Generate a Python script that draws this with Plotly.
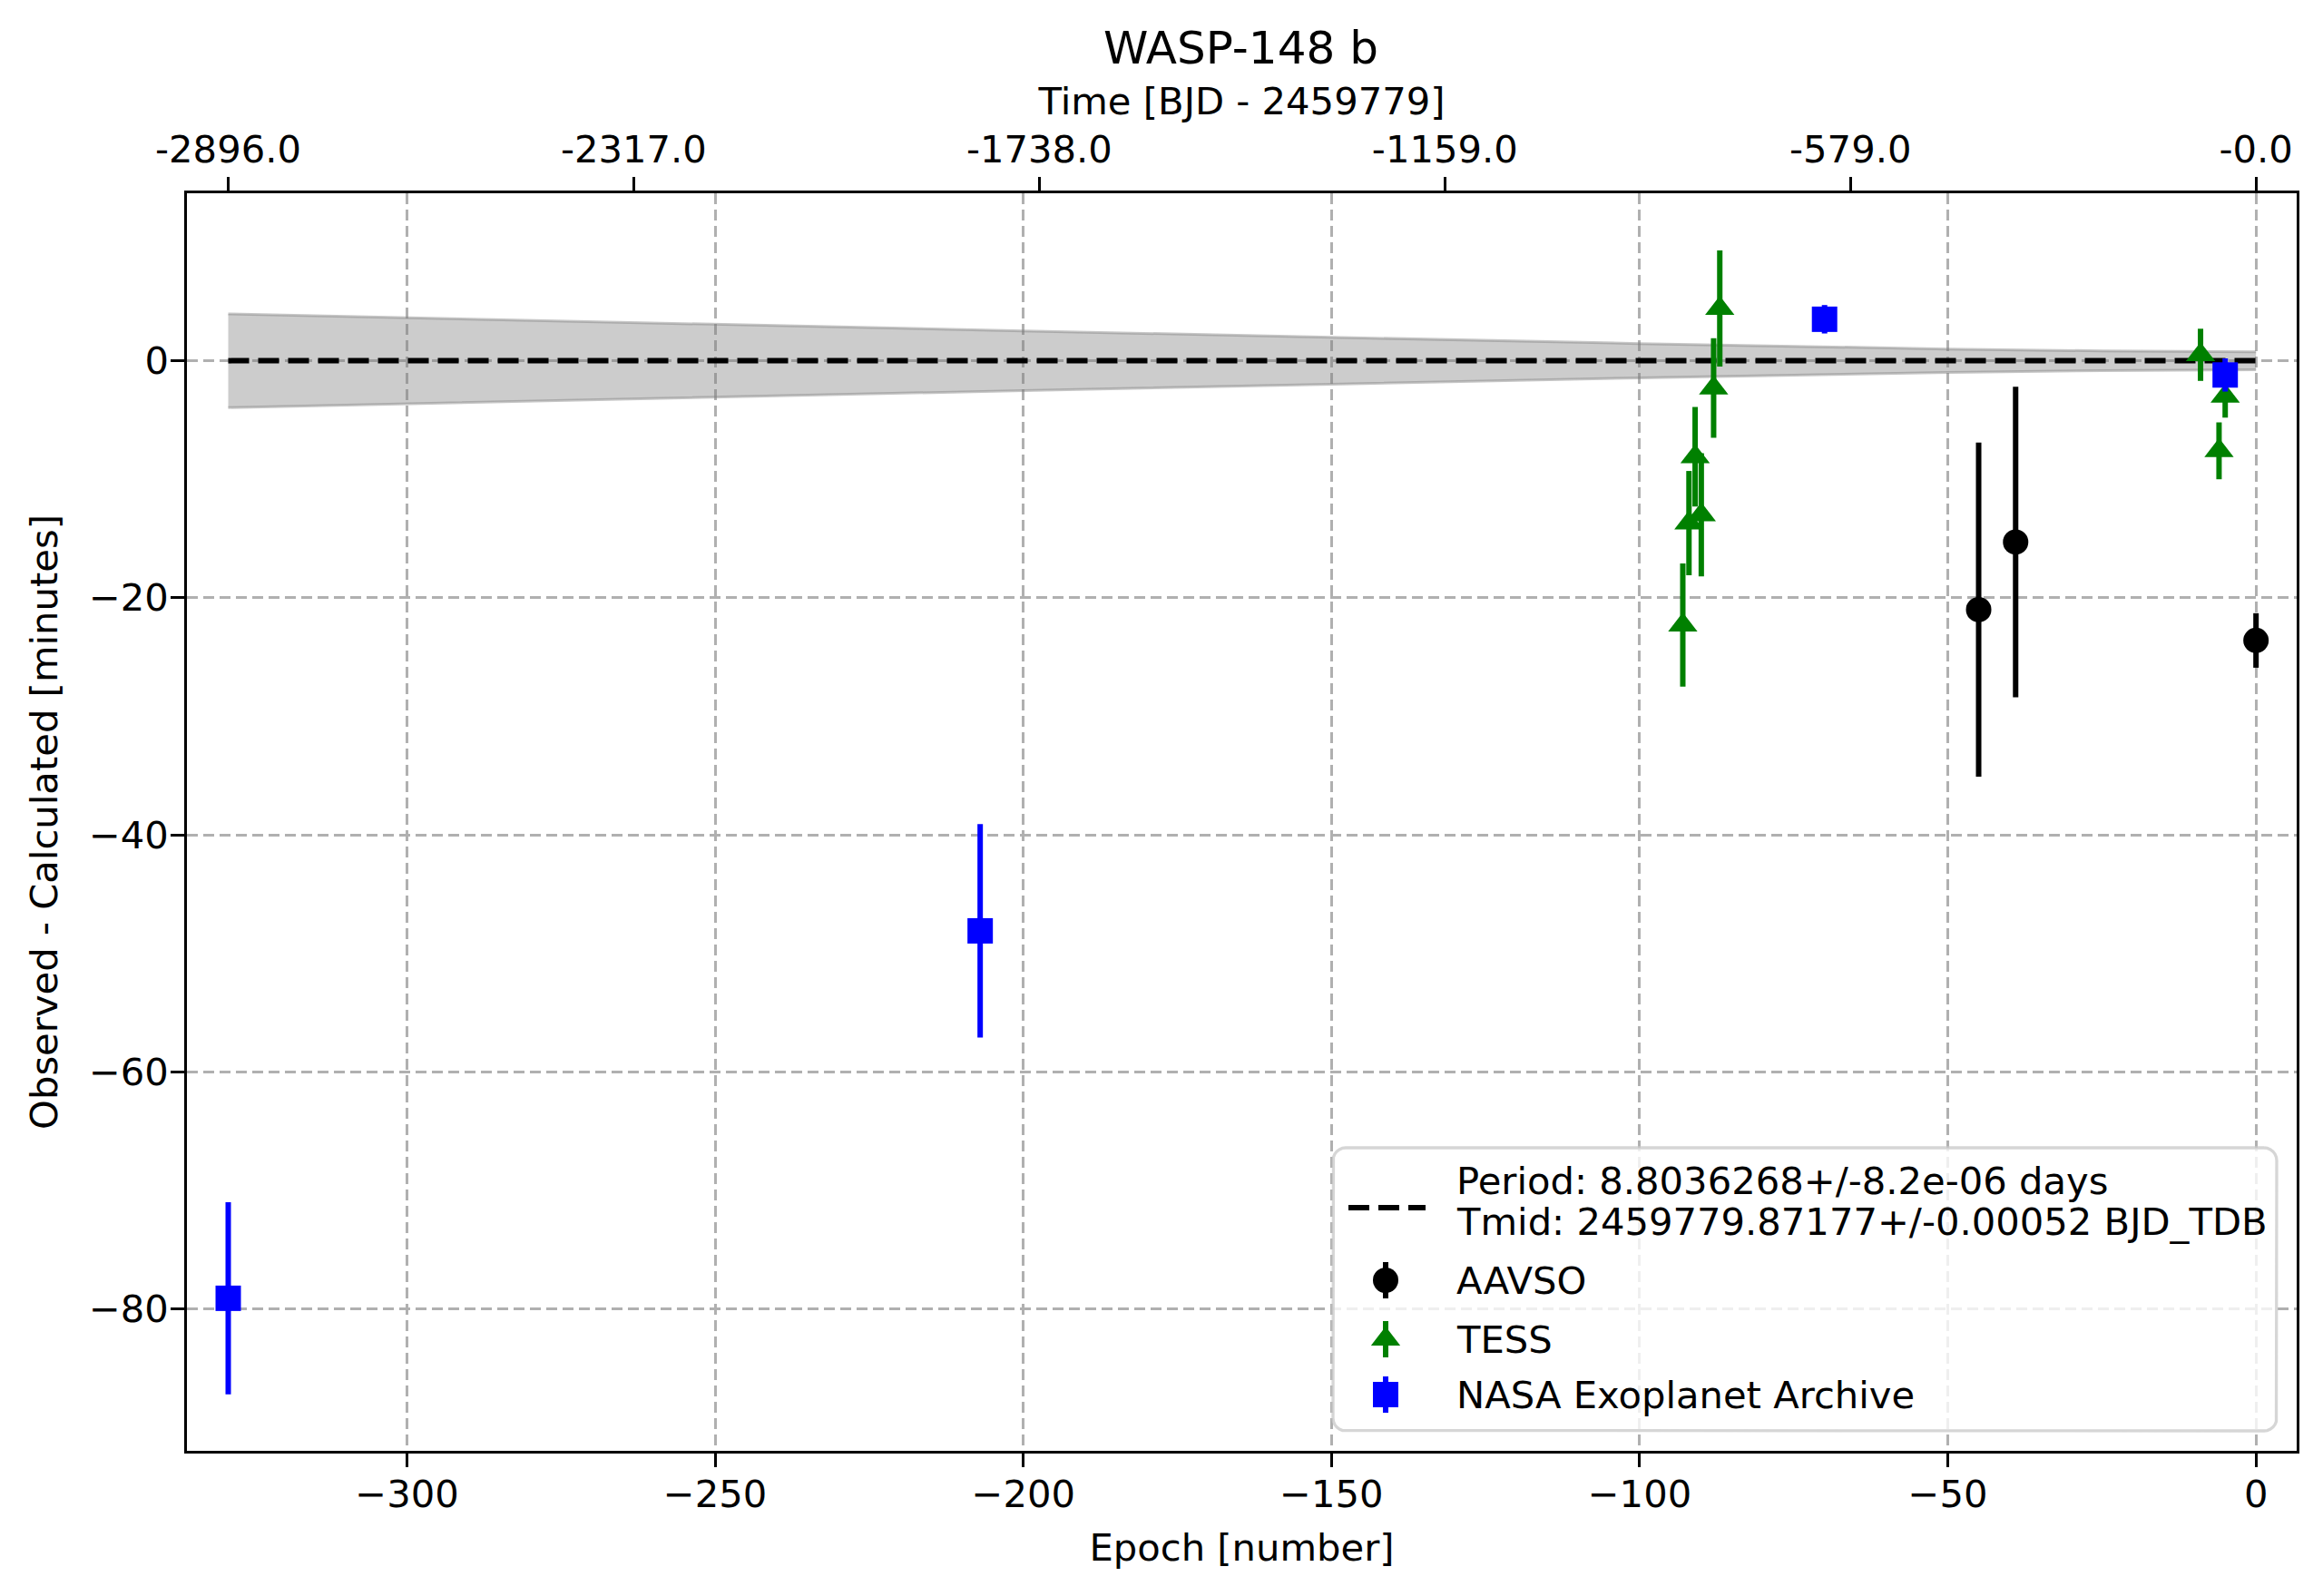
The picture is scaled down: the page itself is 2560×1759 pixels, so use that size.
import math
import plotly.graph_objects as go

# ---------------- data ----------------
# O-C residuals in minutes vs transit epoch
aavso_epoch = [-45, -39, 0]
aavso_oc = [-21.0, -15.3, -23.6]
aavso_err = [14.1, 13.1, 2.3]

tess_epoch = [-93, -92, -91, -90, -88, -87, -9, -6, -5]
tess_oc = [-22.3, -13.7, -8.1, -13.0, -2.3, 4.4, 0.5, -7.6, -3.0]
tess_err = [5.2, 4.4, 4.2, 5.2, 4.2, 4.9, 2.2, 2.4, 1.8]

nasa_epoch = [-329, -207, -70, -5]
nasa_oc = [-79.1, -48.1, 3.5, -1.2]
nasa_err = [8.1, 9.0, 1.2, 1.4]

# ephemeris uncertainty band (half width, minutes)
band_epoch = [-329, -300, -250, -200, -150, -100, -50, -25, 0]
band_half = [3.95, 3.62, 3.07, 2.52, 1.98, 1.45, 0.99, 0.83, 0.75]

# top axis: time since Tmid
top_tick_epoch = [-329, -263.2, -197.4, -131.6, -65.8, 0]
top_tick_text = ["-2896.0", "-2317.0", "-1738.0", "-1159.0", "-579.0", "-0.0"]

fit_lines = ["Period: 8.8036268+/-8.2e-06 days",
             "Tmid: 2459779.87177+/-0.00052 BJD_TDB"]

FONT = "DejaVu Sans"
FS = 41.7
GRID = dict(showgrid=True, gridcolor="#b0b0b0", gridwidth=3, griddash="12px,6px")

# page body has an 8px margin, so the figure is shrunk to keep the plot box in place
OFF = 8
W, H = 2560 - 2 * OFF, 1759 - 2 * OFF
PL, PR, PT, PB = 206, 2531, 213, 1599   # plot box in screenshot pixels

fig = go.Figure()

# uncertainty band
fig.add_trace(go.Scatter(
    x=band_epoch, y=[-h for h in band_half], mode="lines",
    line=dict(color="rgba(128,128,128,0.45)", width=3),
    showlegend=False, hoverinfo="skip"))
fig.add_trace(go.Scatter(
    x=band_epoch, y=band_half, mode="lines", fill="tonexty",
    fillcolor="rgba(128,128,128,0.4)",
    line=dict(color="rgba(128,128,128,0.45)", width=3),
    showlegend=False, hoverinfo="skip"))

# linear ephemeris
fig.add_trace(go.Scatter(
    x=[band_epoch[0], band_epoch[-1]], y=[0, 0], mode="lines",
    line=dict(color="black", width=6, dash="23px,10px"),
    showlegend=False, hoverinfo="skip"))


def err_trace(x, y, e, color, symbol, name, xa="x", ya="y"):
    return go.Scatter(
        x=x, y=y, mode="markers", name=name, xaxis=xa, yaxis=ya,
        showlegend=False,
        marker=dict(color=color, symbol=symbol, size=28, line=dict(width=0)),
        error_y=dict(type="data", array=e, visible=True, color=color,
                     thickness=6, width=0))


series = [
    ("AAVSO", aavso_epoch, aavso_oc, aavso_err, "black", "circle"),
    ("TESS", tess_epoch, tess_oc, tess_err, "green", "triangle-up"),
    ("NASA Exoplanet Archive", nasa_epoch, nasa_oc, nasa_err, "blue", "square"),
]
for name, x, y, e, c, s in series:
    fig.add_trace(err_trace(x, y, e, c, s, name))

# dummy trace to activate the top axis
fig.add_trace(go.Scatter(x=[top_tick_epoch[0]], y=[0], xaxis="x2", mode="markers",
                         marker=dict(opacity=0), showlegend=False, hoverinfo="skip"))

# ---------------- legend drawn in pixel space (x3/y3 overlay) ----------------
LX0, LX1, LY0, LY1, RAD = 1469, 2509, 1265, 1577, 14
bx, by = [], []
for cx, cy, a0 in [(LX1 - RAD, LY0 + RAD, -90), (LX1 - RAD, LY1 - RAD, 0),
                   (LX0 + RAD, LY1 - RAD, 90), (LX0 + RAD, LY0 + RAD, 180)]:
    for k in range(7):
        a = math.radians(a0 + 15 * k)
        bx.append(cx + RAD * math.cos(a))
        by.append(cy + RAD * math.sin(a))
bx.append(bx[0])
by.append(by[0])
fig.add_trace(go.Scatter(x=bx, y=by, xaxis="x3", yaxis="y3", mode="lines",
                         fill="toself", fillcolor="rgba(255,255,255,0.8)",
                         line=dict(color="rgba(204,204,204,0.8)", width=3.3),
                         showlegend=False, hoverinfo="skip"))

HX, TX = 1527, 1603
fig.add_trace(go.Scatter(x=[1486, 1571], y=[1331, 1331], xaxis="x3", yaxis="y3",
                         mode="lines", line=dict(color="black", width=6, dash="23px,10px"),
                         showlegend=False, hoverinfo="skip"))
legend_rows = [1411, 1476, 1537]
for (name, _, _, _, c, s), ly in zip(series, legend_rows):
    fig.add_trace(err_trace([HX], [ly], [20], c, s, name, "x3", "y3"))

annotations = []
for txt, ly in zip(fit_lines + [s[0] for s in series], [1301, 1346] + legend_rows):
    annotations.append(dict(x=TX, y=ly, xref="x3", yref="y3", text=txt,
                            showarrow=False, xanchor="left", yanchor="middle",
                            font=dict(family=FONT, size=FS, color="black")))

XR = [-335.7, 6.6]
axis_common = dict(showline=True, linecolor="black", linewidth=3.3,
                   ticks="outside", ticklen=14.6, tickwidth=3.3, tickcolor="black",
                   tickfont=dict(family=FONT, size=FS, color="black"),
                   zeroline=False)

fig.update_layout(
    width=W, height=H, autosize=False,
    paper_bgcolor="white", plot_bgcolor="white",
    margin=dict(l=PL - OFF, r=W + OFF - PR, t=PT - OFF, b=H + OFF - PB),
    font=dict(family=FONT, size=FS, color="black"),
    title=dict(text="WASP-148 b", x=0.5344, xanchor="center",
               y=1 - 44 / H, yanchor="middle",
               font=dict(family=FONT, size=50, color="black")),
    xaxis=dict(range=XR, dtick=50, tick0=0, mirror=True, ticklabelstandoff=-6,
               title=dict(text="Epoch [number]", standoff=22,
                          font=dict(family=FONT, size=FS)),
               **GRID, **axis_common),
    xaxis2=dict(range=XR, overlaying="x", side="top", anchor="y",
                tickmode="array", tickvals=top_tick_epoch, ticktext=top_tick_text,
                showgrid=False,
                title=dict(text="Time [BJD - 2459779]", standoff=0,
                           font=dict(family=FONT, size=FS)),
                **axis_common),
    yaxis=dict(range=[-91.97, 14.13], dtick=20, tick0=0, mirror=True,
               ticklabelstandoff=-6,
               title=dict(text="Observed - Calculated [minutes]", standoff=22,
                          font=dict(family=FONT, size=FS)),
               **GRID, **axis_common),
    xaxis3=dict(range=[PL, PR], overlaying="x", anchor="y3", visible=False),
    yaxis3=dict(range=[PB, PT], overlaying="y", anchor="x3", visible=False),
    annotations=annotations,
    showlegend=False,
)

fig.write_html("out.html")
